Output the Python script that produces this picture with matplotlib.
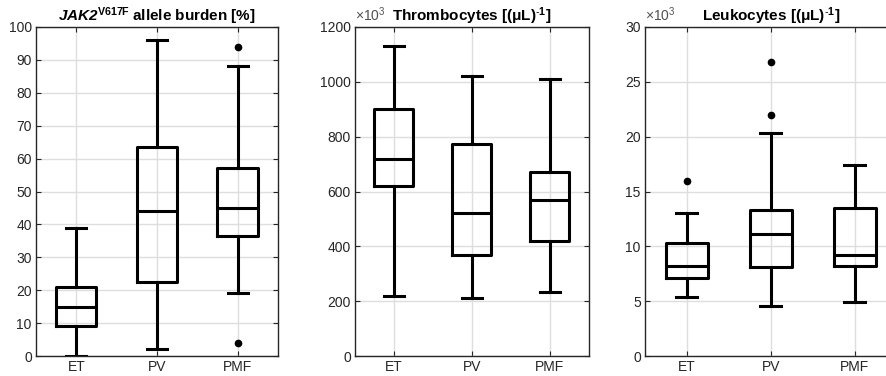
import matplotlib
matplotlib.use('Agg')
from matplotlib import pyplot as plt

groups = ['ET', 'PV', 'PMF']

# box statistics: whislo, q1, med, q3, whishi, outliers
jak2_low = [0, 2, 19]
jak2_q1 = [9, 22.5, 36.5]
jak2_med = [15, 44, 45]
jak2_q3 = [21, 63.5, 57]
jak2_high = [39, 96, 88]
jak2_fliers = [[], [], [94, 4]]

plt_low = [220, 210, 235]
plt_q1 = [620, 370, 420]
plt_med = [720, 520, 570]
plt_q3 = [900, 775, 670]
plt_high = [1130, 1020, 1010]
plt_fliers = [[], [], []]

leu_low = [5.4, 4.6, 4.9]
leu_q1 = [7.1, 8.1, 8.2]
leu_med = [8.2, 11.1, 9.2]
leu_q3 = [10.3, 13.3, 13.5]
leu_high = [13.0, 20.3, 17.4]
leu_fliers = [[16.0], [22.0, 26.8], []]

plt.rcParams['font.family'] = ['Liberation Sans', 'DejaVu Sans']
plt.rcParams['mathtext.fontset'] = 'custom'
plt.rcParams['mathtext.rm'] = 'Liberation Sans'
plt.rcParams['mathtext.it'] = 'Liberation Sans:italic'
plt.rcParams['mathtext.bf'] = 'Liberation Sans:bold'
plt.rcParams['mathtext.bfit'] = 'Liberation Sans:bold:italic'

AXC = '#262626'


def make_stats(low, q1, med, q3, high, fliers):
    return [dict(whislo=a, q1=b, med=c, q3=d, whishi=e, fliers=f, label=g)
            for a, b, c, d, e, f, g in zip(low, q1, med, q3, high, fliers, groups)]


def draw_panel(ax, stats, ylim, yticks, title, scale=False):
    lw = 2.2
    ax.bxp(stats, widths=0.5, capwidths=0.25, showfliers=True,
           boxprops=dict(color='black', lw=lw),
           medianprops=dict(color='black', lw=lw),
           whiskerprops=dict(color='black', lw=lw),
           capprops=dict(color='black', lw=lw),
           flierprops=dict(marker='o', markerfacecolor='black',
                           markeredgecolor='black', markersize=4.5))
    ax.set_xlim(0.5, 3.5)
    ax.set_ylim(*ylim)
    ax.set_yticks(yticks)
    ax.set_xticks([1, 2, 3])
    ax.set_xticklabels(groups)
    ax.grid(True, color='#dedede', lw=1.0)
    ax.set_axisbelow(True)
    ax.tick_params(direction='in', top=True, right=True, length=3.5,
                   labelsize=10, colors=AXC, width=0.8, pad=3)
    for s in ax.spines.values():
        s.set_color(AXC)
        s.set_linewidth(1.0)
    ax.set_title(title, fontsize=11, fontweight='bold', pad=4)
    if scale:
        ax.text(0.0, 1.01, r'$\times10^3$', transform=ax.transAxes,
                fontsize=10, color='#505050', ha='left', va='bottom')


fig = plt.figure(figsize=(8.87, 3.76), dpi=100)
bottom = 1 - 356 / 376
height = (356 - 27) / 376
ax1 = fig.add_axes([36 / 887, bottom, 242 / 887, height])
ax2 = fig.add_axes([355 / 887, bottom, 234 / 887, height])
ax3 = fig.add_axes([645 / 887, bottom, 252 / 887, height])

draw_panel(ax1, make_stats(jak2_low, jak2_q1, jak2_med, jak2_q3, jak2_high, jak2_fliers),
           (0, 100), range(0, 101, 10),
           r'$\mathbfit{JAK2}^{\mathbf{V617F}}$ allele burden [%]')
draw_panel(ax2, make_stats(plt_low, plt_q1, plt_med, plt_q3, plt_high, plt_fliers),
           (0, 1200), range(0, 1201, 200),
           r'Thrombocytes [(μL)$^{\mathbf{\text{-}1}}$]', scale=True)
draw_panel(ax3, make_stats(leu_low, leu_q1, leu_med, leu_q3, leu_high, leu_fliers),
           (0, 30), range(0, 31, 5),
           r'Leukocytes [(μL)$^{\mathbf{\text{-}1}}$]', scale=True)

fig.savefig('out.png', dpi=100)
plt.close(fig)
